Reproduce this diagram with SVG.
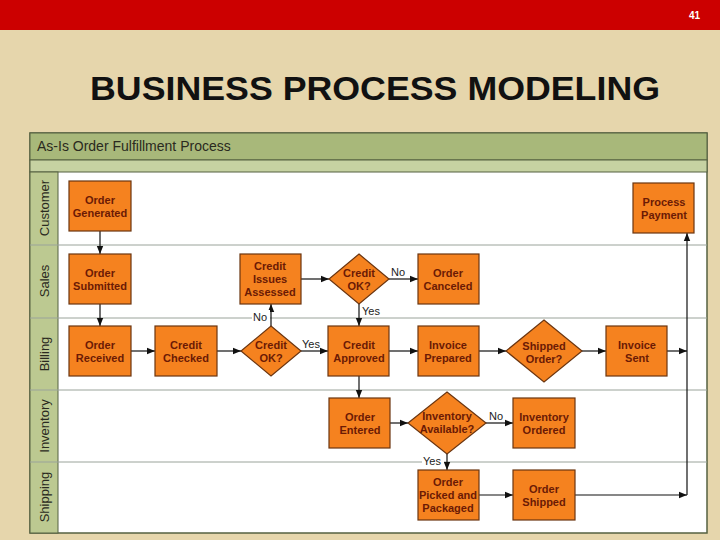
<svg xmlns="http://www.w3.org/2000/svg" width="720" height="540" viewBox="0 0 720 540">
<defs>
<marker id="ah" viewBox="0 0 10 10" refX="10" refY="5" markerWidth="7" markerHeight="7" orient="auto"><path d="M0,1 L10,5 L0,9 z" fill="#111"/></marker>
</defs>
<style>
.b{fill:#f5821f;stroke:#6b3510;stroke-width:1.2}
.t{font-family:"Liberation Sans",Arial,sans-serif;font-weight:bold;font-size:11px;fill:#6b1a05;text-anchor:middle}
.l{font-family:"Liberation Sans",Arial,sans-serif;font-size:11px;fill:#222}
.lane{font-family:"Liberation Sans",Arial,sans-serif;font-size:13px;fill:#2a2a20;text-anchor:middle}
.c{stroke:#111;stroke-width:1.2;fill:none}
.sep{stroke:#9aa39a;stroke-width:1}
</style>
<rect width="720" height="540" fill="#e6d6ac"/>
<rect x="0" y="0" width="720" height="30" fill="#cc0000"/>
<text x="700" y="19" font-family="Liberation Sans,Arial,sans-serif" font-size="10" font-weight="bold" fill="#fff" text-anchor="end">41</text>
<text x="90" y="100" font-family="Liberation Sans,Arial,sans-serif" font-size="33" font-weight="bold" fill="#111" textLength="570" lengthAdjust="spacingAndGlyphs">BUSINESS PROCESS MODELING</text>
<rect x="30" y="133" width="677" height="400" fill="#fff" stroke="#556040" stroke-width="1.5"/>
<rect x="30" y="133" width="677" height="27" fill="#a8b87a" stroke="#556040"/>
<rect x="30" y="160" width="677" height="12" fill="#c6d2a2" stroke="#556040"/>
<text x="37" y="151" font-family="Liberation Sans,Arial,sans-serif" font-size="14" fill="#2a2a20">As-Is Order Fulfillment Process</text>
<rect x="30" y="172" width="28" height="361" fill="#bcc991" stroke="#556040"/>
<g>
<line class="sep" x1="30" y1="245" x2="707" y2="245"/>
<line class="sep" x1="30" y1="318" x2="707" y2="318"/>
<line class="sep" x1="30" y1="390" x2="707" y2="390"/>
<line class="sep" x1="30" y1="462" x2="707" y2="462"/>
</g>
<text class="lane" transform="translate(49,208) rotate(-90)">Customer</text>
<text class="lane" transform="translate(49,281) rotate(-90)">Sales</text>
<text class="lane" transform="translate(49,354) rotate(-90)">Billing</text>
<text class="lane" transform="translate(49,426) rotate(-90)">Inventory</text>
<text class="lane" transform="translate(49,497) rotate(-90)">Shipping</text>

<g id="connectors">
<path class="c" d="M100,231 V254" marker-end="url(#ah)"/>
<path class="c" d="M100,304 V326" marker-end="url(#ah)"/>
<path class="c" d="M131,351 H155" marker-end="url(#ah)"/>
<path class="c" d="M217,351 H241" marker-end="url(#ah)"/>
<path class="c" d="M301,351 H328" marker-end="url(#ah)"/>
<path class="c" d="M271,326 V304" marker-end="url(#ah)"/>
<path class="c" d="M301,279 H329" marker-end="url(#ah)"/>
<path class="c" d="M389,279 H418" marker-end="url(#ah)"/>
<path class="c" d="M359,304 V326" marker-end="url(#ah)"/>
<path class="c" d="M389,351 H418" marker-end="url(#ah)"/>
<path class="c" d="M479,351 H506" marker-end="url(#ah)"/>
<path class="c" d="M582,351 H606" marker-end="url(#ah)"/>
<path class="c" d="M667,351 H687" marker-end="url(#ah)"/>
<path class="c" d="M359,376 V398" marker-end="url(#ah)"/>
<path class="c" d="M390,423 H408" marker-end="url(#ah)"/>
<path class="c" d="M486,423 H513" marker-end="url(#ah)"/>
<path class="c" d="M447,454 V470" marker-end="url(#ah)"/>
<path class="c" d="M479,495 H513" marker-end="url(#ah)"/>
<path class="c" d="M575,495 H687" marker-end="url(#ah)"/>
<path class="c" d="M687,495 V233" marker-end="url(#ah)"/>
<rect x="252" y="310" width="18" height="13" fill="#fff"/>
<text class="l" x="253" y="321">No</text>
<text class="l" x="302" y="348">Yes</text>
<text class="l" x="362" y="315">Yes</text>
<text class="l" x="391" y="276">No</text>
<text class="l" x="489" y="420">No</text>
<rect x="422" y="455" width="22" height="13" fill="#fff"/>
<text class="l" x="423" y="465">Yes</text>
</g>

<g id="n1"><rect class="b" x="69" y="181" width="62" height="50"/><text class="t" x="100" y="204">Order</text><text class="t" x="100" y="217">Generated</text></g>
<g id="n2"><rect class="b" x="69" y="254" width="62" height="50"/><text class="t" x="100" y="277">Order</text><text class="t" x="100" y="290">Submitted</text></g>
<g id="n3"><rect class="b" x="69" y="326" width="62" height="50"/><text class="t" x="100" y="349">Order</text><text class="t" x="100" y="362">Received</text></g>
<g id="n4"><rect class="b" x="155" y="326" width="62" height="50"/><text class="t" x="186" y="349">Credit</text><text class="t" x="186" y="362">Checked</text></g>
<g id="n5"><polygon class="b" points="271,326 301,351 271,376 241,351"/><text class="t" x="271" y="349">Credit</text><text class="t" x="271" y="362">OK?</text></g>
<g id="n6"><rect class="b" x="240" y="254" width="61" height="50"/><text class="t" x="270" y="270">Credit</text><text class="t" x="270" y="283">Issues</text><text class="t" x="270" y="296">Assessed</text></g>
<g id="n7"><polygon class="b" points="359,254 389,279 359,304 329,279"/><text class="t" x="359" y="277">Credit</text><text class="t" x="359" y="290">OK?</text></g>
<g id="n8"><rect class="b" x="418" y="254" width="61" height="50"/><text class="t" x="448" y="277">Order</text><text class="t" x="448" y="290">Canceled</text></g>
<g id="n9"><rect class="b" x="328" y="326" width="61" height="50"/><text class="t" x="359" y="349">Credit</text><text class="t" x="359" y="362">Approved</text></g>
<g id="n10"><rect class="b" x="418" y="326" width="61" height="50"/><text class="t" x="448" y="349">Invoice</text><text class="t" x="448" y="362">Prepared</text></g>
<g id="n11"><polygon class="b" points="544,320 582,351 544,382 506,351"/><text class="t" x="544" y="350">Shipped</text><text class="t" x="544" y="363">Order?</text></g>
<g id="n12"><rect class="b" x="606" y="326" width="61" height="50"/><text class="t" x="637" y="349">Invoice</text><text class="t" x="637" y="362">Sent</text></g>
<g id="n13"><rect class="b" x="633" y="183" width="61" height="50"/><text class="t" x="664" y="206">Process</text><text class="t" x="664" y="219">Payment</text></g>
<g id="n14"><rect class="b" x="329" y="398" width="61" height="50"/><text class="t" x="360" y="421">Order</text><text class="t" x="360" y="434">Entered</text></g>
<g id="n15"><polygon class="b" points="447,392 486,423 447,454 408,423"/><text class="t" x="447" y="420">Inventory</text><text class="t" x="447" y="433">Available?</text></g>
<g id="n16"><rect class="b" x="513" y="398" width="62" height="50"/><text class="t" x="544" y="421">Inventory</text><text class="t" x="544" y="434">Ordered</text></g>
<g id="n17"><rect class="b" x="418" y="470" width="61" height="50"/><text class="t" x="448" y="486">Order</text><text class="t" x="448" y="499">Picked and</text><text class="t" x="448" y="512">Packaged</text></g>
<g id="n18"><rect class="b" x="513" y="470" width="62" height="50"/><text class="t" x="544" y="493">Order</text><text class="t" x="544" y="506">Shipped</text></g>
</svg>
